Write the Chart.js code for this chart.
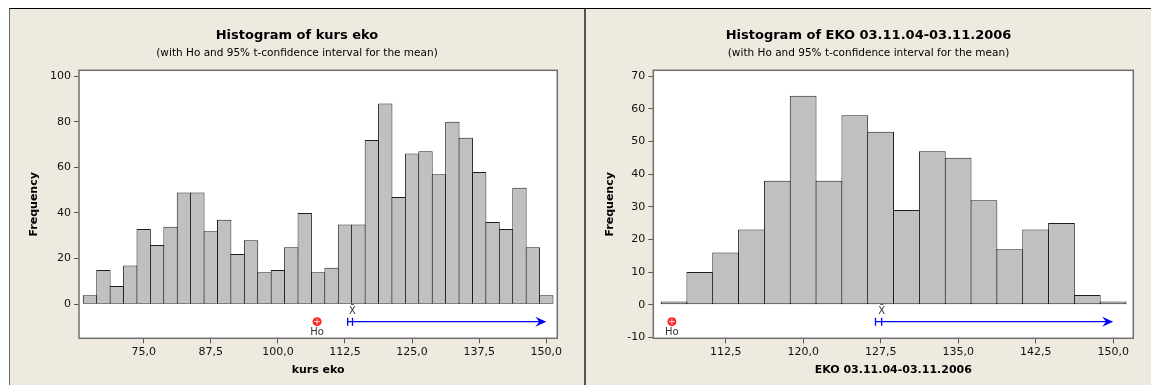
<!DOCTYPE html>
<html>
<head>
<meta charset="utf-8">
<script src="https://cdn.jsdelivr.net/npm/chart.js@4"></script>
<style>
  html, body { margin: 0; padding: 0; background: #fff; width: 1151px; height: 385px; overflow: hidden; }
  #frame { position: absolute; left: 9px; top: 8px; width: 1142px; height: 377px; background: #eeeae0;
           border-top: 1px solid #000; border-left: 1px solid #666; box-sizing: border-box; }
  #divider { position: absolute; left: 584px; top: 9px; width: 2px; height: 376px; background: #555; }
  canvas { position: absolute; top: 9px; }
  #kursChart { left: 10px; }
  #ekoChart { left: 586px; }
</style>
</head>
<body>
<div id="frame"></div>
<div id="divider"></div>
<canvas id="kursChart" width="574" height="376"></canvas>
<canvas id="ekoChart" width="565" height="376"></canvas>
<script>
// kurs eko: bin midpoints and frequencies
const kursBins = [65, 67.5, 70, 72.5, 75, 77.5, 80, 82.5, 85, 87.5, 90, 92.5, 95, 97.5, 100, 102.5, 105, 107.5,
                  110, 112.5, 115, 117.5, 120, 122.5, 125, 127.5, 130, 132.5, 135, 137.5, 140, 142.5, 145, 147.5, 150];
const kursFreq = [4, 15, 8, 17, 33, 26, 34, 49, 49, 32, 37, 22, 28, 14, 15, 25, 40, 14,
                  16, 35, 35, 72, 88, 47, 66, 67, 57, 80, 73, 58, 36, 33, 51, 25, 4];
const kursXTicks = [75, 87.5, 100, 112.5, 125, 137.5, 150];
const kursYTicks = [0, 20, 40, 60, 80, 100];

// EKO 03.11.04-03.11.2006
const ekoBins = [107.5, 110, 112.5, 115, 117.5, 120, 122.5, 125, 127.5, 130, 132.5, 135, 137.5, 140, 142.5, 145, 147.5, 150];
const ekoFreq = [1, 10, 16, 23, 38, 64, 38, 58, 53, 29, 47, 45, 32, 17, 23, 25, 3, 1];
const ekoXTicks = [112.5, 120, 127.5, 135, 142.5, 150];
const ekoYTicks = [-10, 0, 10, 20, 30, 40, 50, 60, 70];

// Ho and one-sided 95% t-interval (lower bound, mean)
const kursHo = 107.3, kursLower = 113.0, kursMean = 113.9;
const ekoHo = 107.3, ekoLower = 127.0, ekoMean = 127.6;

Chart.defaults.font.family = "'DejaVu Sans', sans-serif";
Chart.defaults.color = '#111';

const subtitleText = '(with Ho and 95% t-confidence interval for the mean)';

// white plot area + grey frame
const plotFrame = {
    id: 'plotFrame',
    beforeDraw(chart) {
        const a = chart.chartArea;
        chart.ctx.save();
        chart.ctx.fillStyle = '#fff';
        chart.ctx.fillRect(a.left, a.top, a.right - a.left, a.bottom - a.top);
        chart.ctx.restore();
    },
    afterDatasetsDraw(chart) {
        const a = chart.chartArea, ctx = chart.ctx;
        ctx.save();
        ctx.strokeStyle = '#707070';
        ctx.lineWidth = 1.5;
        ctx.strokeRect(a.left, a.top, a.right - a.left, a.bottom - a.top);
        ctx.restore();
    }
};

function ciMarks(ho, lower, mean, end, level) {
    return {
        id: 'ciMarks',
        afterDatasetsDraw(chart) {
            const { ctx, scales: { x, y } } = chart;
            const py = y.getPixelForValue(level);
            const ph = x.getPixelForValue(ho);
            const pl = x.getPixelForValue(lower);
            const pm = x.getPixelForValue(mean);
            const pe = x.getPixelForValue(end);
            ctx.save();
            // Ho marker
            ctx.fillStyle = '#f22';
            ctx.beginPath();
            ctx.arc(ph, py, 4.5, 0, Math.PI * 2);
            ctx.fill();
            ctx.strokeStyle = '#fdd';
            ctx.lineWidth = 1;
            ctx.beginPath();
            ctx.moveTo(ph - 3, py); ctx.lineTo(ph + 3, py);
            ctx.moveTo(ph, py - 3); ctx.lineTo(ph, py + 3);
            ctx.stroke();
            ctx.fillStyle = '#333';
            ctx.font = "10px 'DejaVu Sans'";
            ctx.textAlign = 'center';
            ctx.textBaseline = 'middle';
            ctx.fillText('Ho', ph, py + 11);
            // mean label
            ctx.fillText('X\u0304', pm, py - 10);
            // interval
            ctx.strokeStyle = '#00f';
            ctx.fillStyle = '#00f';
            ctx.lineWidth = 1.3;
            ctx.beginPath();
            ctx.moveTo(pl, py); ctx.lineTo(pe - 6, py);
            ctx.moveTo(pl, py - 4); ctx.lineTo(pl, py + 4);
            ctx.moveTo(pm, py - 4); ctx.lineTo(pm, py + 4);
            ctx.stroke();
            ctx.beginPath();
            ctx.moveTo(pe, py);
            ctx.lineTo(pe - 11, py - 5);
            ctx.lineTo(pe - 7, py);
            ctx.lineTo(pe - 11, py + 5);
            ctx.closePath();
            ctx.fill();
            ctx.restore();
        }
    };
}

function makeHistogram(id, cfg) {
    new Chart(document.getElementById(id), {
        type: 'bar',
        data: {
            datasets: [{
                data: cfg.bins.map((b, i) => ({ x: b, y: cfg.freq[i] })),
                backgroundColor: '#c0c0c0',
                borderColor: '#1e1e1e',
                borderWidth: 1,
                borderSkipped: false,
                barPercentage: cfg.barPct,
                categoryPercentage: 1
            }]
        },
        options: {
            responsive: false,
            animation: false,
            layout: { padding: 0 },
            plugins: {
                legend: { display: false },
                tooltip: { enabled: false },
                title: {
                    display: true,
                    text: cfg.title,
                    color: '#000',
                    font: { size: 13, weight: 'bold' },
                    padding: { top: 19.2, bottom: 0.6 }
                },
                subtitle: {
                    display: true,
                    text: subtitleText,
                    color: '#000',
                    font: { size: 10.5 },
                    padding: { top: 3, bottom: 10.3 }
                }
            },
            scales: {
                x: {
                    type: 'linear',
                    position: 'bottom',
                    offset: false,
                    min: cfg.xMin,
                    max: cfg.xMax,
                    afterBuildTicks: s => { s.ticks = cfg.xTicks.map(v => ({ value: v })); },
                    afterFit: s => { s.height = 46.7; },
                    ticks: {
                        autoSkip: false,
                        maxRotation: 0,
                        padding: 2,
                        color: '#111',
                        font: { size: 11 },
                        callback: v => v.toFixed(1).replace('.', ',')
                    },
                    grid: { offset: false, drawOnChartArea: false, tickLength: 5, color: '#555' },
                    border: { display: false },
                    title: {
                        display: true,
                        text: cfg.xTitle,
                        color: '#000',
                        font: { size: 11, weight: 'bold' },
                        padding: { top: 0, bottom: 8.4 }
                    }
                },
                y: {
                    min: cfg.yMin,
                    max: cfg.yMax,
                    afterBuildTicks: s => { s.ticks = cfg.yTicks.map(v => ({ value: v })); },
                    afterFit: s => { s.width = cfg.yWidth; },
                    ticks: { padding: 3, color: '#111', font: { size: 11 } },
                    grid: { drawOnChartArea: false, tickLength: 5, color: '#555' },
                    border: { display: false },
                    title: {
                        display: true,
                        text: 'Frequency',
                        color: '#000',
                        font: { size: 11, weight: 'bold' },
                        padding: { top: 17.4, bottom: 0 }
                    }
                },
                yRight: {
                    type: 'linear',
                    position: 'right',
                    ticks: { display: false },
                    grid: { display: false },
                    border: { display: false },
                    afterFit: s => { s.width = cfg.rightWidth; }
                }
            }
        },
        plugins: [plotFrame, ciMarks(cfg.ho, cfg.lower, cfg.mean, 150, cfg.level)]
    });
}

makeHistogram('kursChart', {
    title: 'Histogram of kurs eko',
    xTitle: 'kurs eko',
    bins: kursBins, freq: kursFreq,
    xTicks: kursXTicks, yTicks: kursYTicks,
    xMin: 62.95, xMax: 152.05, yMin: -14.9, yMax: 102.5,
    yWidth: 69, rightWidth: 26.7, barPct: 1.07,
    ho: kursHo, lower: kursLower, mean: kursMean, level: -7.6
});

makeHistogram('ekoChart', {
    title: 'Histogram of EKO 03.11.04-03.11.2006',
    xTitle: 'EKO 03.11.04-03.11.2006',
    bins: ekoBins, freq: ekoFreq,
    xTicks: ekoXTicks, yTicks: ekoYTicks,
    xMin: 105.5, xMax: 151.95, yMin: -10.3, yMax: 71.8,
    yWidth: 67.3, rightWidth: 17.7, barPct: 1.035,
    ho: ekoHo, lower: ekoLower, mean: ekoMean, level: -5.2
});
</script>
</body>
</html>
